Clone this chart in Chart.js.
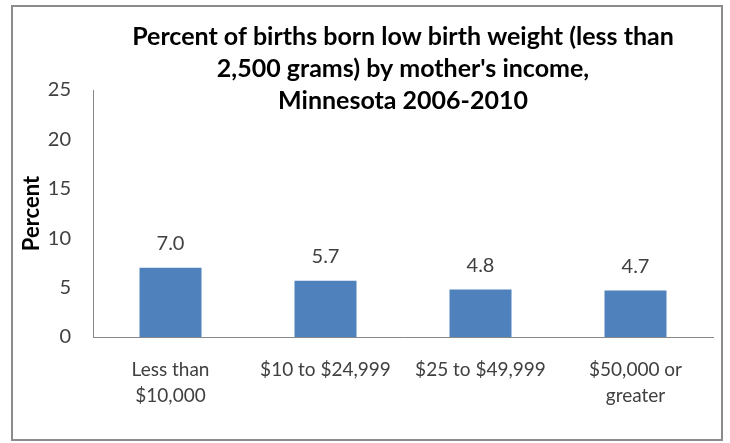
<!DOCTYPE html>
<html>
<head>
<meta charset="utf-8">
<script src="https://cdn.jsdelivr.net/npm/chart.js@4/dist/chart.umd.min.js"></script>
<style>
  body { margin: 0; background: #fff; }
  #wrap { width: 730px; height: 443px; position: relative; }
</style>
</head>
<body>
<div id="wrap"><canvas id="chart"></canvas></div>
<script>
var income_groups = [["Less than", "$10,000"], "$10 to $24,999", "$25 to $49,999", ["$50,000 or", "greater"]];
var low_birth_weight_pct = [7.0, 5.7, 4.8, 4.7];
var y_ticks = [0, 5, 10, 15, 20, 25];

var title_lines = [
  "Percent of births born low birth weight (less than",
  "2,500 grams) by mother's income,",
  "Minnesota 2006-2010",
];

const font_family = "Lato, 'Open Sans', sans-serif";

// outer frame of the chart, like the excel export
const framePlugin = {
  id: "frame",
  afterDraw(chart) {
    const c = chart.ctx;
    c.save();
    c.strokeStyle = "#8c8c8c";
    c.lineWidth = 2;
    c.strokeRect(12, 6, 710, 434);
    c.restore();
  },
};

// value labels above each bar
const valueLabels = {
  id: "valueLabels",
  afterDatasetsDraw(chart) {
    const c = chart.ctx;
    const meta = chart.getDatasetMeta(0);
    c.save();
    c.font = "20px " + font_family;
    c.fillStyle = "#404040";
    c.textAlign = "center";
    c.textBaseline = "middle";
    meta.data.forEach((bar, i) => {
      c.fillText(low_birth_weight_pct[i].toFixed(1), bar.x, bar.y - 24);
    });
    c.restore();
  },
};

const ctx = document.getElementById("chart").getContext("2d");

const config = {
  type: "bar",
  data: {
    labels: income_groups,
    datasets: [
      {
        data: low_birth_weight_pct,
        backgroundColor: "#4f81bd",
        borderWidth: 0,
        categoryPercentage: 1,
        barPercentage: 0.4,
      },
    ],
  },
  options: {
    responsive: true,
    maintainAspectRatio: false,
    animation: false,
    layout: {
      padding: { left: 14, right: 17, top: 6, bottom: 26 },
    },
    plugins: {
      legend: { display: false },
      tooltip: { enabled: false },
      title: {
        display: true,
        fullSize: false,
        text: title_lines,
        color: "#000",
        font: { family: font_family, size: 25, weight: "bold", lineHeight: 1.28 },
        padding: { top: 15, bottom: -27 },
      },
    },
    scales: {
      y: {
        min: 0,
        max: 25,
        afterBuildTicks: function (scale) {
          scale.ticks = y_ticks.map((v) => ({ value: v }));
        },
        afterFit: function (scale) {
          scale.width = 79;
        },
        grid: { display: false, drawTicks: false },
        border: { display: true, color: "#888", width: 1 },
        ticks: {
          color: "#404040",
          padding: 22,
          font: { family: font_family, size: 20 },
        },
        title: {
          display: true,
          text: "Percent",
          color: "#000",
          font: { family: font_family, size: 22, weight: "bold" },
          padding: { top: 5, bottom: 0 },
        },
      },
      x: {
        afterFit: function (scale) {
          scale.height = 80;
        },
        grid: { display: false, drawTicks: false },
        border: { display: true, color: "#888", width: 1 },
        ticks: {
          color: "#404040",
          padding: 20,
          maxRotation: 0,
          autoSkip: false,
          font: { family: font_family, size: 19, lineHeight: 1.37 },
        },
      },
    },
  },
  plugins: [valueLabels, framePlugin],
};

var chart = new Chart(ctx, config);
</script>
</body>
</html>
